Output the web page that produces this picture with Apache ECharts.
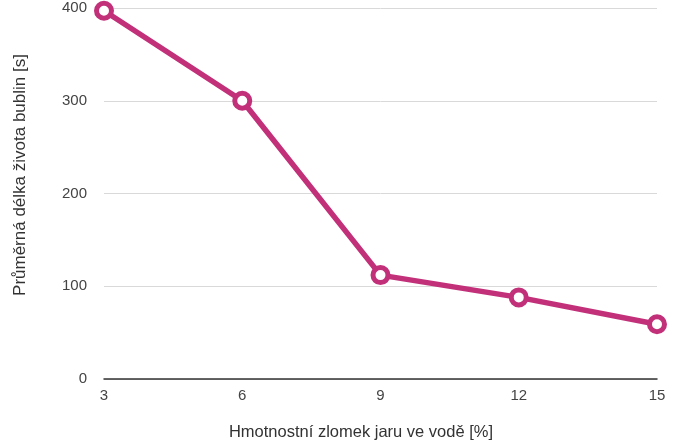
<!DOCTYPE html>
<html><head><meta charset="utf-8">
<script src="https://cdn.jsdelivr.net/npm/echarts@6/dist/echarts.min.js"></script>
<style>html,body{margin:0;padding:0;background:#fff}#c{width:683px;height:448px}</style>
</head><body><div id="c"></div>
<script>
const xValues = [3, 6, 9, 12, 15];
const yValues = [397, 300, 112, 88, 59];
const xName = 'Hmotnostní zlomek jaru ve vodě [%]';
const yName = 'Průměrná délka života bublin [s]';
const chart = echarts.init(document.getElementById('c'));
chart.setOption({
  animation: false,
  grid: {left: 104, right: 26, top: 8, bottom: 69},
  graphic: [{
    type: 'text', x: 20, y: 175, rotation: Math.PI / 2,
    style: {text: yName, fontFamily: 'Liberation Sans', fontSize: 17, fill: '#333',
            textAlign: 'center', textVerticalAlign: 'middle'}
  }, {
    type: 'text', x: 361, y: 432,
    style: {text: xName, fontFamily: 'Liberation Sans', fontSize: 16.5, fill: '#333',
            textAlign: 'center', textVerticalAlign: 'middle'}
  }],
  xAxis: {
    type: 'value', min: 3, max: 15, interval: 3,
    axisLine: {show: true, onZero: false, lineStyle: {color: '#333', width: 1.5}},
    axisTick: {show: false},
    splitLine: {show: false},
    axisLabel: {fontFamily: 'Liberation Sans', fontSize: 15, color: '#444', margin: 9}
  },
  yAxis: {
    type: 'value', min: 0, max: 400, interval: 100,
    axisLine: {show: false}, axisTick: {show: false},
    splitLine: {lineStyle: {color: '#d9d9d9', width: 1}},
    axisLabel: {fontFamily: 'Liberation Sans', fontSize: 15, color: '#444', margin: 17}
  },
  series: [{
    type: 'line',
    data: xValues.map((x, i) => [x, yValues[i]]),
    symbol: 'circle', symbolSize: 15,
    lineStyle: {color: '#C2307A', width: 5.5},
    itemStyle: {color: '#fff', borderColor: '#C2307A', borderWidth: 5},
    z: 3
  }]
});
</script></body></html>
